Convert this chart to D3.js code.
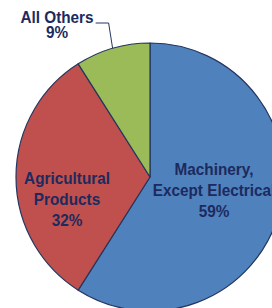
<!DOCTYPE html>
<html>
<head>
<meta charset="utf-8">
<script src="https://cdn.jsdelivr.net/npm/d3@7"></script>
<style>
	html, body { margin: 0; padding: 0; background: #fff; overflow: hidden; }
	svg { display: block; }
	text { font-family: "Liberation Sans", Arial, sans-serif; font-weight: bold; fill: #1c2a5e; }
</style>
</head>
<body>
<svg width="272" height="308"></svg>
<script>
var categories = ["Machinery, Except Electrical", "Agricultural Products", "All Others"];
var values = [59, 32, 9];
var labelLines = [["Machinery,", "Except Electrical"], ["Agricultural", "Products"], ["All Others"]];
var colors = ["#4f81bd", "#c0504d", "#9bbb59"];

var svg = d3.select("svg"),
	cx = 150, cy = 177, radius = 134;

var slices = categories.map(function(c, i){ return {name: c, value: values[i], lines: labelLines[i]}; });

var pie = d3.pie()
	.sort(null)
	.value(function(d){ return d.value; });

var arc = d3.arc().innerRadius(0).outerRadius(radius);

var g = svg.append("g").attr("transform", "translate(" + cx + "," + cy + ")");

var arcs = pie(slices);

g.selectAll("path.slice")
	.data(arcs)
	.enter().append("path")
	.attr("class", "slice")
	.attr("d", arc)
	.attr("fill", function(d, i){ return colors[i]; })
	.attr("stroke", "#24365f")
	.attr("stroke-width", 1.2)
	.attr("stroke-linejoin", "round");

// label placement (x, y of first baseline relative to centre, line gap)
var labelPos = [
	{x: 64, y: -2, gap: 21},
	{x: -83, y: 7, gap: 21},
	{x: -93, y: -154, gap: 15}
];

arcs.forEach(function(d, i){
	var p = labelPos[i];
	var t = g.append("text")
		.attr("text-anchor", "middle")
		.attr("font-size", 17);
	var lines = d.data.lines.concat([d.data.value + "%"]);
	lines.forEach(function(l, j){
		var ts = t.append("tspan")
			.attr("x", p.x)
			.attr("y", p.y + j * p.gap)
			.text(l);
		// squeeze a bit, the original font is a condensed one
		var w = ts.node().getComputedTextLength();
		ts.attr("textLength", w * 0.9).attr("lengthAdjust", "spacingAndGlyphs");
	});
});

// leader line for the small slice
var small = arcs[2],
	outer = d3.arc().innerRadius(radius).outerRadius(radius).centroid(small);
g.append("path")
	.attr("d", d3.line()([outer, [outer[0] - 4, -154], [outer[0] - 17, -154]]))
	.attr("fill", "none")
	.attr("stroke", "#24365f")
	.attr("stroke-width", 1);
</script>
</body>
</html>
